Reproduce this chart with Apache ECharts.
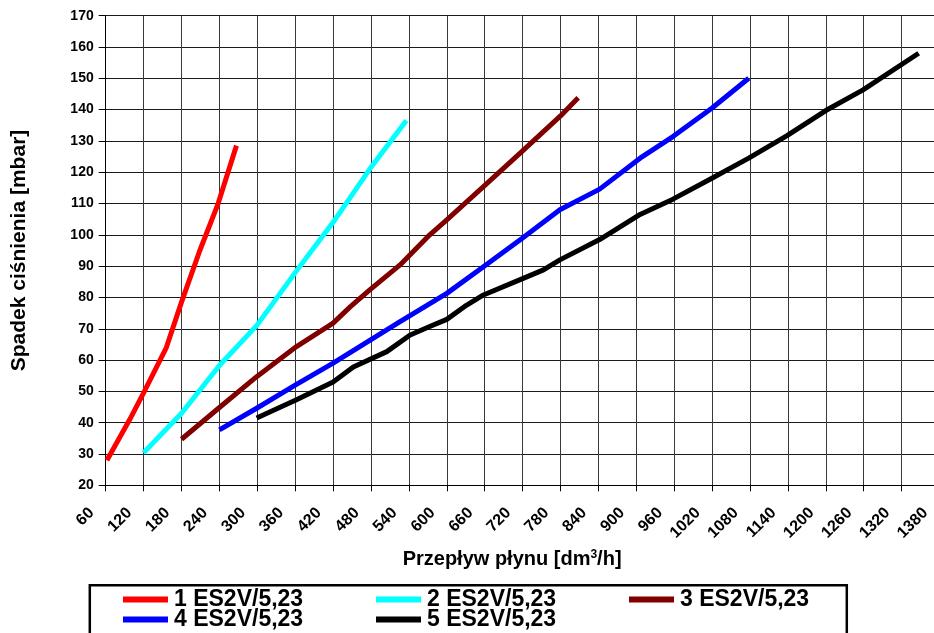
<!DOCTYPE html>
<html>
<head>
<meta charset="utf-8">
<script src="https://cdn.jsdelivr.net/npm/echarts@6/dist/echarts.min.js"></script>
<style>
html,body{margin:0;padding:0;background:#fff;}
#chart{width:934px;height:633px;}
</style>
</head>
<body>
<div id="chart"></div>
<script>
// Data
var seriesNames = ['1 ES2V/5,23', '2 ES2V/5,23', '3 ES2V/5,23', '4 ES2V/5,23', '5 ES2V/5,23'];
var seriesColors = ['#FF0000', '#00FFFF', '#800000', '#0000FF', '#000000'];

var flow1 = [62, 98, 120, 156, 180, 209, 238, 267];
var drop1 = [28, 41, 49.5, 64, 78.5, 95, 110, 128.5];

var flow2 = [120, 180, 241, 299, 362, 420, 478, 536];
var drop2 = [30.4, 43, 58.5, 71, 88.5, 104, 121, 136.5];

var flow3 = [180, 241, 299, 362, 420, 447, 478, 526, 573, 600, 658, 720, 780, 808];
var drop3 = [34.7, 45, 54.7, 64.3, 71.8, 77, 82.4, 90.4, 100, 104.8, 115.4, 126.8, 138, 143.8];

var flow4 = [240, 299, 360, 420, 480, 526, 600, 658, 720, 779, 842, 906, 958, 1020, 1078];
var drop4 = [37.7, 44.6, 52, 59, 66.5, 72.3, 81.3, 89.8, 99, 108, 114.6, 124.5, 131.4, 140.5, 150];

var flow5 = [299, 362, 420, 452, 505, 542, 573, 600, 631, 658, 720, 753, 779, 842, 906, 958, 1019, 1078, 1138, 1200, 1259, 1347];
var drop5 = [41.5, 47.3, 53, 57.8, 62.7, 68, 70.7, 73, 77.5, 80.8, 86, 88.8, 92, 98.5, 106.5, 111.4, 118, 124.5, 131.6, 139.7, 146.3, 158];

var xMin = 60, xMax = 1380, xStep = 60;
var yMin = 20, yMax = 170, yStep = 10;

var xTitle = 'Przepływ płynu [dm{sup|3}/h]';
var yTitle = 'Spadek ciśnienia [mbar]';

function pairs(xs, ys) {
  return xs.map(function (x, i) { return [x, ys[i]]; });
}

var flows = [flow1, flow2, flow3, flow4, flow5];
var drops = [drop1, drop2, drop3, drop4, drop5];

var FONT = '"Liberation Sans", Arial, sans-serif';

var chart = echarts.init(document.getElementById('chart'), null, {renderer: 'canvas'});

var series = seriesNames.map(function (name, i) {
  return {
    name: name,
    type: 'line',
    data: pairs(flows[i], drops[i]),
    showSymbol: false,
    symbol: 'none',
    smooth: false,
    color: seriesColors[i],
    lineStyle: {width: 5, color: seriesColors[i], cap: 'butt', join: 'round'},
    z: 3
  };
});

var legendCommon = {
  orient: 'horizontal',
  left: 123,
  icon: 'rect',
  itemWidth: 45,
  itemHeight: 6,
  itemGap: 8,
  padding: 0,
  selectedMode: false,
  textStyle: {
    fontFamily: FONT,
    fontWeight: 'bold',
    fontSize: 23,
    color: '#000',
    width: 194,
    lineHeight: 22,
    padding: [0, 0, 0, 1]
  }
};

var option = {
  backgroundColor: '#ffffff',
  animation: false,
  grid: {
    left: 105.7,
    top: 15.7,
    width: 833.8,
    height: 469.6,
    containLabel: false,
    outerBoundsMode: 'none'
  },
  xAxis: {
    type: 'value',
    min: xMin,
    max: xMax,
    interval: xStep,
    name: xTitle,
    nameLocation: 'middle',
    nameGap: 58,
    nameTextStyle: {
      fontFamily: FONT,
      fontWeight: 'bold',
      fontSize: 20,
      color: '#000',
      align: 'center',
      padding: [0, 21, 0, 0],
      rich: {
        sup: {fontFamily: FONT, fontWeight: 'bold', fontSize: 12, color: '#000', verticalAlign: 'top', padding: [0, 0, 10, 0]}
      }
    },
    axisLine: {show: true, lineStyle: {color: '#000', width: 1}},
    axisTick: {show: true, inside: false, length: 6, lineStyle: {color: '#000', width: 1}},
    axisLabel: {
      rotate: 45,
      margin: 11,
      padding: [0, 20, 0, 0],
      fontFamily: FONT,
      fontWeight: 'bold',
      fontSize: 16,
      color: '#000',
      showMaxLabel: true,
      showMinLabel: true,
      hideOverlap: false,
      formatter: function (v) { return String(v); }
    },
    splitLine: {show: true, lineStyle: {color: '#3a3a3a', width: 1}}
  },
  yAxis: {
    type: 'value',
    min: yMin,
    max: yMax,
    interval: yStep,
    name: yTitle,
    nameLocation: 'middle',
    nameRotate: 90,
    nameGap: 76,
    nameTextStyle: {
      fontFamily: FONT,
      fontWeight: 'bold',
      fontSize: 21,
      color: '#000'
    },
    axisLine: {show: true, lineStyle: {color: '#000', width: 1}},
    axisTick: {show: true, inside: false, length: 7, lineStyle: {color: '#000', width: 1}},
    axisLabel: {
      margin: 12,
      fontFamily: FONT,
      fontWeight: 'bold',
      fontSize: 14,
      color: '#000',
      formatter: function (v) { return String(v); }
    },
    splitLine: {show: true, lineStyle: {color: '#1a1a1a', width: 1}}
  },
  legend: [
    Object.assign({}, legendCommon, {top: 588, data: seriesNames.slice(0, 3)}),
    Object.assign({}, legendCommon, {top: 608, data: seriesNames.slice(3, 5)})
  ],
  graphic: [
    {
      type: 'rect',
      left: 87.3,
      top: 582.7,
      shape: {width: 757, height: 60},
      style: {fill: 'none', stroke: '#000', lineWidth: 2.5},
      silent: true,
      z: 0
    }
  ],
  series: series
};

chart.setOption(option);
</script>
</body>
</html>
